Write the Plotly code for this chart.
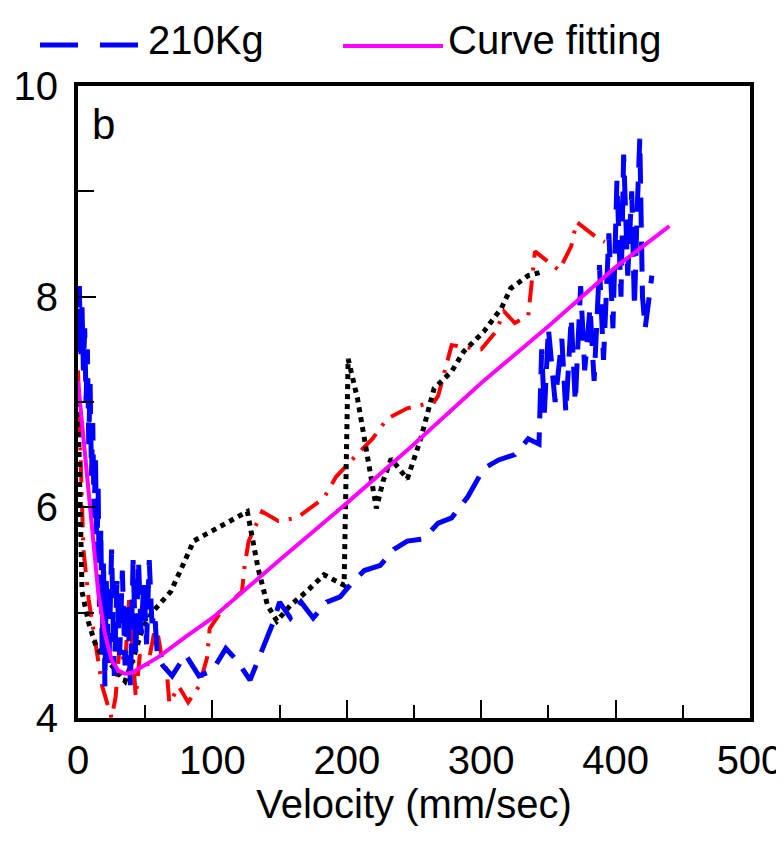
import plotly.graph_objects as go

# ---------------- data ----------------
blue_v = [0, 1, 2, 3, 4, 5, 6, 7, 8, 9, 10, 11, 12, 13, 14, 15, 16, 17, 18, 19, 20, 21, 23, 25, 27, 29, 31, 33, 35, 37, 39, 41, 43, 45, 47, 49, 51, 53, 55, 57, 59,
          63, 70, 80, 90, 100, 110, 118, 128, 137, 145, 150, 158, 166, 175, 185, 195, 205, 213, 225, 235, 245, 257, 268, 278, 290, 302, 313, 325, 335, 343,
          345, 347, 350, 355, 360, 363, 367, 370, 374, 377, 381, 384, 388, 391, 395, 398, 401, 404, 406, 409, 412, 414, 416, 418, 420, 422, 427]
blue_f = [7.6, 8.1, 7.4, 7.9, 7.3, 7.7, 7.0, 7.5, 6.6, 7.2, 6.3, 6.8, 5.9, 6.5, 5.5, 6.2, 5.0, 5.8, 4.6, 5.5, 4.3, 5.3, 4.5, 5.6, 4.4, 5.3, 4.6, 5.4, 4.5, 5.1, 4.3, 5.5, 4.6, 5.5, 4.8, 5.3, 4.7, 5.5, 4.9, 5.0, 4.6,
          4.5, 4.4, 4.6, 4.4, 4.45, 4.66, 4.55, 4.36, 4.66, 4.9, 5.1, 4.95, 5.1, 4.95, 5.1, 5.15, 5.3, 5.4, 5.45, 5.6, 5.68, 5.7, 5.85, 5.9, 6.1, 6.37, 6.45, 6.5, 6.65, 6.6,
          7.5, 6.9, 7.7, 7.0, 7.6, 6.9, 7.8, 7.0, 8.1, 7.3, 7.9, 7.2, 8.3, 7.4, 8.6, 7.7, 9.1, 8.0, 9.35, 8.2, 9.0, 7.9, 8.8, 9.5, 8.0, 7.7, 8.2]

red_v = [0, 2, 4, 8, 13, 18, 25, 28, 31, 35, 38, 43, 46, 52, 58, 62, 66, 68, 75, 82, 90, 96, 98, 103, 108, 122, 124, 127, 137, 149, 163, 183, 192, 203, 219,
         230, 245, 265, 268, 278, 300, 311, 317, 325, 335, 340, 358, 367, 371, 387, 392]
red_f = [7.3, 6.4, 5.6, 5.12, 4.69, 4.3, 4.0, 4.2, 4.7, 4.5, 5.12, 4.2, 4.6, 4.5, 4.9, 4.6, 4.45, 4.14, 4.3, 4.15, 4.3, 4.57, 4.85, 4.95, 5.04, 5.2, 5.45, 5.68, 5.96,
         5.87, 5.9, 6.09, 6.29, 6.44, 6.65, 6.84, 6.94, 7.0, 7.06, 7.54, 7.5, 7.67, 7.86, 7.75, 7.82, 8.43, 8.25, 8.48, 8.71, 8.55, 8.52]

black_v = [0, 1, 2, 3, 8, 14, 25, 35, 42, 48, 55, 62, 69, 78, 86, 96, 110, 126, 134, 141, 148, 158, 170, 183, 198, 200, 201, 208, 213, 222, 227, 233, 245,
           255, 265, 278, 287, 302, 315, 322, 335, 347]
black_f = [7.0, 6.2, 5.6, 5.2, 4.9, 4.66, 4.5, 4.35, 4.6, 4.85, 5.0, 5.1, 5.2, 5.45, 5.68, 5.75, 5.85, 5.96, 5.42, 5.07, 4.92, 5.07, 5.2, 5.36, 5.26, 6.5, 7.41,
           7.03, 6.65, 5.99, 6.25, 6.46, 6.27, 6.65, 7.13, 7.29, 7.48, 7.67, 7.89, 8.08, 8.2, 8.24]

fit_v = [0, 5, 10, 15, 20, 25, 30, 35, 40, 50, 60, 80, 100, 150, 200, 250, 300, 350, 400, 440]
fit_f = [7.2, 6.5, 5.8, 5.2, 4.8, 4.55, 4.45, 4.42, 4.43, 4.5, 4.58, 4.77, 4.95, 5.5, 6.04, 6.6, 7.18, 7.72, 8.28, 8.67]

x_ticks = [0, 100, 200, 300, 400, 500]
y_ticks = [4, 6, 8, 10]
legend_names = ["210Kg", "Curve fitting"]
x_title = "Velocity (mm/sec)"
panel_label = "b"

FONT = "Liberation Sans, Arial, sans-serif"
FS = 40

fig = go.Figure()
fig.add_trace(go.Scatter(x=red_v, y=red_f, mode="lines", showlegend=False,
                         line=dict(color="#ff0000", width=4, dash="22px,10px,3px,10px")))
fig.add_trace(go.Scatter(x=black_v, y=black_f, mode="lines", showlegend=False,
                         line=dict(color="#000000", width=5, dash="5px,5px")))
fig.add_trace(go.Scatter(x=blue_v, y=blue_f, mode="lines", name=legend_names[0], showlegend=False,
                         line=dict(color="#0000ff", width=5, dash="30px,14px")))
fig.add_trace(go.Scatter(x=fit_v, y=fit_f, mode="lines", name=legend_names[1], showlegend=False,
                         line=dict(color="#ff00ff", width=4)))

# page offset of the figure inside the browser window
OX, OY = 8, 8
L, R, T, B = 78, 750, 86, 718          # target plot box in window pixels
W, H = float(R - L), float(B - T)
def px(xp):
    return (xp - L) / W
def py(yp):
    return (B - yp) / H

fig.add_shape(type="line", xref="paper", yref="paper", x0=px(40), x1=px(138), y0=py(45), y1=py(45),
              line=dict(color="#0000ff", width=5, dash="38px,22px"))
fig.add_shape(type="line", xref="paper", yref="paper", x0=px(343), x1=px(443), y0=py(46), y1=py(46),
              line=dict(color="#ff00ff", width=4))
fig.add_annotation(xref="paper", yref="paper", x=px(146), y=py(40), text=legend_names[0], showarrow=False,
                   xanchor="left", yanchor="middle", font=dict(family=FONT, size=FS, color="black"))
fig.add_annotation(xref="paper", yref="paper", x=px(446), y=py(40), text=legend_names[1], showarrow=False,
                   xanchor="left", yanchor="middle", font=dict(family=FONT, size=FS, color="black"))
fig.add_annotation(xref="paper", yref="paper", x=px(90), y=py(124), text=panel_label, showarrow=False,
                   xanchor="left", yanchor="middle", font=dict(family=FONT, size=FS + 2, color="black"))

fig.update_xaxes(range=[0, 500], tickvals=x_ticks, ticktext=[str(v) for v in x_ticks],
                 ticks="inside", ticklen=18, tickwidth=2, tickcolor="black",
                 minor=dict(dtick=50, tick0=0, ticks="inside", ticklen=13, tickwidth=2, tickcolor="black"),
                 showline=True, linewidth=4, linecolor="black", mirror=True,
                 showgrid=False, zeroline=False, ticklabelstandoff=4, automargin=False,
                 tickfont=dict(family=FONT, size=FS, color="black"),
                 title=dict(text=x_title, font=dict(family=FONT, size=FS, color="black"), standoff=2))
fig.update_yaxes(range=[4, 10], tickvals=y_ticks, ticktext=[str(v) for v in y_ticks],
                 ticks="inside", ticklen=18, tickwidth=2, tickcolor="black",
                 minor=dict(dtick=1, tick0=4, ticks="inside", ticklen=16, tickwidth=2, tickcolor="black"),
                 showline=True, linewidth=4, linecolor="black", mirror=True,
                 showgrid=False, zeroline=False, ticklabelstandoff=8, automargin=False,
                 tickfont=dict(family=FONT, size=FS, color="black"))

fig.update_layout(width=784, height=846,
                  margin=dict(l=L - OX, r=784 - R + OX, t=T - OY, b=846 - B + OY),
                  plot_bgcolor="white", paper_bgcolor="white", showlegend=False)

fig.write_html("out.html")
